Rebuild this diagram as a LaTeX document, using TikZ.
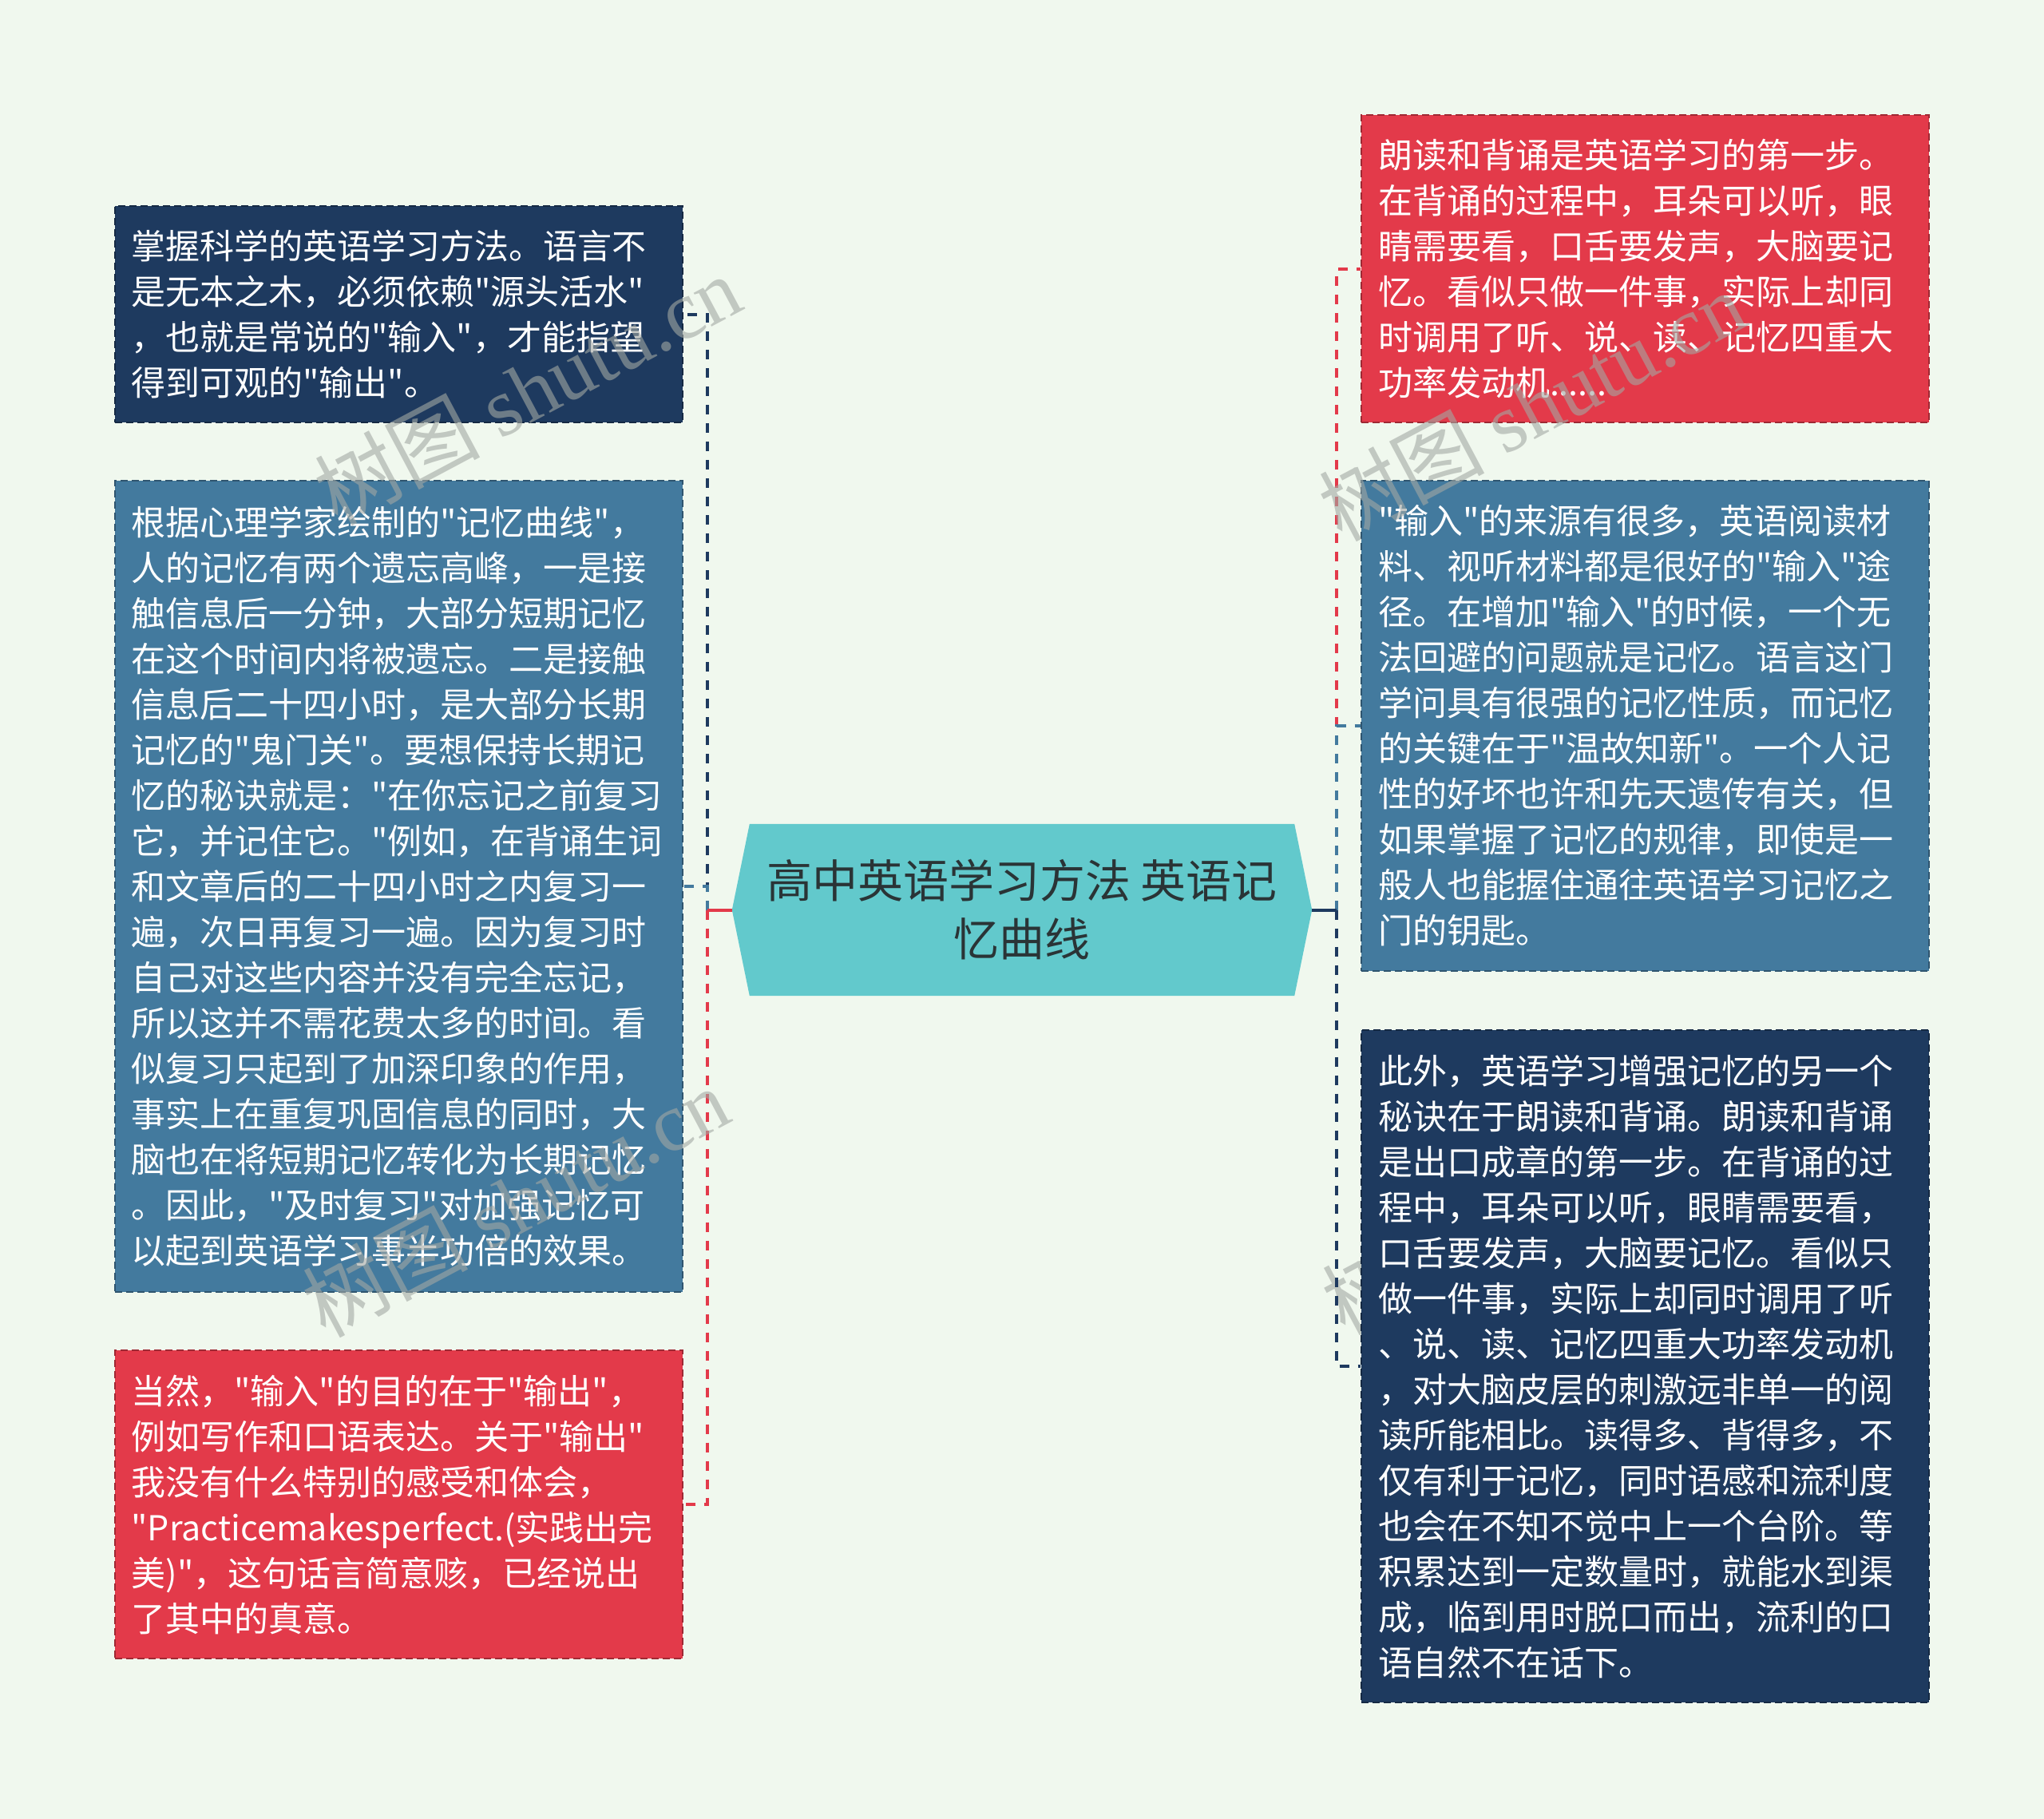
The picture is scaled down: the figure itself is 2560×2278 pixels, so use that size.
\documentclass[tikz,border=0pt]{standalone}
\usepackage{fontspec}
\newfontfamily\cjk{Noto Sans CJK SC}
\newfontfamily\wmserif{Liberation Serif}
\usetikzlibrary{calc}
\definecolor{bg}{HTML}{F0F8EE}
\definecolor{navy}{HTML}{1E3A5F}
\definecolor{steel}{HTML}{437A9E}
\definecolor{redc}{HTML}{E33A4A}
\definecolor{tealc}{HTML}{62C9CC}
\definecolor{ctext}{HTML}{2A3436}
\definecolor{wm}{HTML}{A3A8A3}
\tikzset{
  leaf/.style={rectangle, fill=#1, draw=#1!70!black, dash pattern=on 9pt off 5pt,
    line width=2pt, minimum width=711pt, text width=669pt, inner xsep=21pt,
    inner ysep=0pt, align=left, text=white,
    font=\cjk\fontsize{43}{57}\selectfont},
  conn/.style={draw=#1, line width=4pt, dash pattern=on 12pt off 11pt},
  stub/.style={draw=#1, line width=4pt},
  wmark/.style={text=wm, opacity=0.6, rotate=28, inner sep=0pt},
}
\begin{document}
\begin{tikzpicture}[x=1pt,y=-1pt]
\fill[bg] (0,0) rectangle (2560,2278);
\useasboundingbox (0,0) rectangle (2560,2278);

% watermark under lower right box
\node[wmark] (W4) at (1922,1502) {\cjk\fontsize{104}{104}\selectfont 树图 \wmserif shutu.cn};

% central topic
\node[minimum width=726pt, minimum height=215pt, inner sep=0pt] (C) at (1280,1139.5) {};
\fill[tealc] (C.west) -- ($(C.north west)+(22,0)$) -- ($(C.north east)+(-22,0)$)
  -- (C.east) -- ($(C.south east)+(-22,0)$) -- ($(C.south west)+(22,0)$) -- cycle;
\node[align=center, text=ctext, font=\cjk\fontsize{57}{73}\selectfont, inner sep=0pt] (CT) at (C.center)
  {高中英语学习方法 英语记\\忆曲线};

% left boxes
\node[leaf=navy, minimum height=271pt] (L1) at (499,393.5) {掌握科学的英语学习方法。语言不\\
是无本之木，必须依赖"源头活水"\\
，也就是常说的"输入"，才能指望\\
得到可观的"输出"。};

\node[leaf=steel, minimum height=1016pt] (L2) at (499,1110) {根据心理学家绘制的"记忆曲线"，\\
人的记忆有两个遗忘高峰，一是接\\
触信息后一分钟，大部分短期记忆\\
在这个时间内将被遗忘。二是接触\\
信息后二十四小时，是大部分长期\\
记忆的"鬼门关"。要想保持长期记\\
忆的秘诀就是："在你忘记之前复习\\
它，并记住它。"例如，在背诵生词\\
和文章后的二十四小时之内复习一\\
遍，次日再复习一遍。因为复习时\\
自己对这些内容并没有完全忘记，\\
所以这并不需花费太多的时间。看\\
似复习只起到了加深印象的作用，\\
事实上在重复巩固信息的同时，大\\
脑也在将短期记忆转化为长期记忆\\
。因此，"及时复习"对加强记忆可\\
以起到英语学习事半功倍的效果。};

\node[leaf=redc, minimum height=386pt] (L3) at (499,1884) {当然，"输入"的目的在于"输出"，\\
例如写作和口语表达。关于"输出"\\
我没有什么特别的感受和体会，\\
"Practicemakesperfect.(实践出完\\
美)"，这句话言简意赅，已经说出\\
了其中的真意。};

% right boxes
\node[leaf=redc, minimum height=385pt] (R1) at (2060.5,336.5) {朗读和背诵是英语学习的第一步。\\
在背诵的过程中，耳朵可以听，眼\\
睛需要看，口舌要发声，大脑要记\\
忆。看似只做一件事，实际上却同\\
时调用了听、说、读、记忆四重大\\
功率发动机......};

\node[leaf=steel, minimum height=614pt] (R2) at (2060.5,909) {"输入"的来源有很多，英语阅读材\\
料、视听材料都是很好的"输入"途\\
径。在增加"输入"的时候，一个无\\
法回避的问题就是记忆。语言这门\\
学问具有很强的记忆性质，而记忆\\
的关键在于"温故知新"。一个人记\\
性的好坏也许和先天遗传有关，但\\
如果掌握了记忆的规律，即使是一\\
般人也能握住通往英语学习记忆之\\
门的钥匙。};

\node[leaf=navy, minimum height=842pt] (R3) at (2060.5,1711) {此外，英语学习增强记忆的另一个\\
秘诀在于朗读和背诵。朗读和背诵\\
是出口成章的第一步。在背诵的过\\
程中，耳朵可以听，眼睛需要看，\\
口舌要发声，大脑要记忆。看似只\\
做一件事，实际上却同时调用了听\\
、说、读、记忆四重大功率发动机\\
，对大脑皮层的刺激远非单一的阅\\
读所能相比。读得多、背得多，不\\
仅有利于记忆，同时语感和流利度\\
也会在不知不觉中上一个台阶。等\\
积累达到一定数量时，就能水到渠\\
成，临到用时脱口而出，流利的口\\
语自然不在话下。};

% connectors
\coordinate (jl) at ($(C.west)+(-31,0)$);
\coordinate (jr) at ($(C.east)+(31,0)$);
\draw[conn=navy] (jl) |- (L1.east);
\draw[conn=steel] (jl) |- (L2.east);
\draw[conn=redc] (jl) |- (L3.east);
\draw[stub=redc] (C.west) -- (jl);
\draw[conn=redc] (jr) |- (R1.west);
\draw[conn=steel] (jr) |- (R2.west);
\draw[conn=navy] (jr) |- (R3.west);
\draw[stub=navy] (C.east) -- (jr);

% watermarks
\node[wmark] (W1) at (660,488) {\cjk\fontsize{104}{104}\selectfont 树图 \wmserif shutu.cn};
\node[wmark] (W2) at (645,1505) {\cjk\fontsize{104}{104}\selectfont 树图 \wmserif shutu.cn};
\node[wmark] (W3) at (1918,508) {\cjk\fontsize{104}{104}\selectfont 树图 \wmserif shutu.cn};
\end{tikzpicture}
\end{document}
